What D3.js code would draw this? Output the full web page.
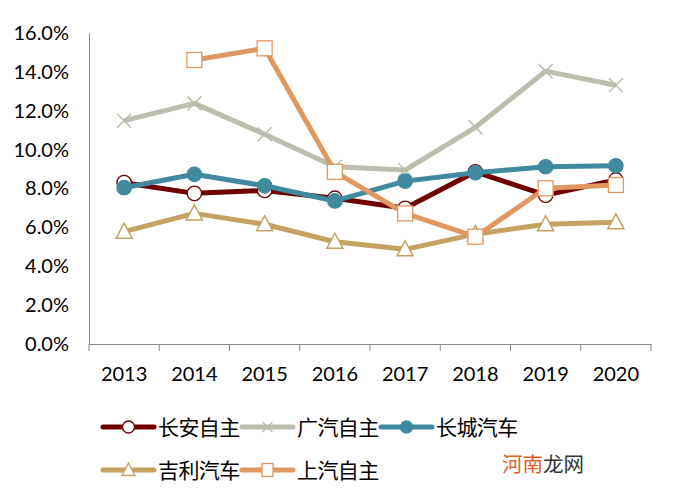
<!DOCTYPE html>
<html><head><meta charset="utf-8">
<script src="https://cdn.jsdelivr.net/npm/d3@7/dist/d3.min.js"></script>
<style>body{margin:0;background:#fff;}svg{display:block;}</style>
</head><body>
<svg id="c" width="699" height="499"></svg>
<script>
const years = ["2013","2014","2015","2016","2017","2018","2019","2020"];
const changan = [8.3, 7.75, 7.9, 7.5, 6.98, 8.86, 7.66, 8.44];
const gac = [11.49, 12.38, 10.79, 9.12, 8.95, 11.15, 14.04, 13.31];
const greatWall = [8.04, 8.73, 8.14, 7.36, 8.38, 8.81, 9.12, 9.17];
const geely = [5.78, 6.72, 6.16, 5.26, 4.87, 5.65, 6.16, 6.26];
const saic = [null, 14.61, 15.21, 8.86, 6.72, 5.52, 8.01, 8.18];
const yTicks = [0, 2, 4, 6, 8, 10, 12, 14, 16];
const seriesNames = ["长安自主", "广汽自主", "长城汽车", "吉利汽车", "上汽自主"];

(function(){
const series = [
  {name: seriesNames[0], values: changan, color: "#700000", marker: "circle", fill: "#fff"},
  {name: seriesNames[1], values: gac, color: "#bdbdad", marker: "x", fill: "none"},
  {name: seriesNames[2], values: greatWall, color: "#3f8a9d", marker: "circle", fill: "#3f8a9d"},
  {name: seriesNames[3], values: geely, color: "#c3a262", marker: "triangle", fill: "#fff"},
  {name: seriesNames[4], values: saic, color: "#e09860", marker: "square", fill: "#fff"}
];

const svg = d3.select("#c");
const mLeft = 89, mRight = 651, mTop = 33, mBottom = 344;
const x = d3.scaleBand().domain(years).range([mLeft, mRight]);
const y = d3.scaleLinear().domain([0, 16]).range([mBottom, mTop]);
const font = "Lato, 'Liberation Sans', sans-serif";
const cjk = "'Noto Sans CJK SC', sans-serif";

const yAxis = svg.append("g").attr("transform", `translate(${mLeft},0)`)
  .call(d3.axisLeft(y).tickValues(yTicks).tickSize(0).tickPadding(20).tickFormat(d => d.toFixed(1) + "%"));
yAxis.select(".domain").attr("stroke", "#888").attr("stroke-width", 1);
yAxis.selectAll("text").attr("font-family", font).attr("font-size", 20).attr("fill", "#000");

const xAxis = svg.append("g").attr("transform", `translate(0,${mBottom})`)
  .call(d3.axisBottom(x).tickSize(0).tickPadding(23));
xAxis.select(".domain").attr("stroke", "#888").attr("stroke-width", 1);
xAxis.selectAll("text").attr("font-family", font).attr("font-size", 20).attr("fill", "#000");
const bounds = years.map(d => x(d)).concat([mRight]);
svg.append("g").selectAll("line").data(bounds).join("line")
  .attr("x1", d => d).attr("x2", d => d).attr("y1", mBottom).attr("y2", mBottom + 7)
  .attr("stroke", "#888").attr("stroke-width", 1);

const cx = d => x(d) + x.bandwidth() / 2;

function drawMarker(g, type, color, fill, px, py) {
  if (type === "circle") {
    g.append("circle").attr("cx", px).attr("cy", py).attr("r", 7.2)
      .attr("fill", fill).attr("stroke", color).attr("stroke-width", 1.3);
  } else if (type === "square") {
    g.append("rect").attr("x", px - 7.5).attr("y", py - 7.5).attr("width", 15).attr("height", 15)
      .attr("fill", fill).attr("stroke", color).attr("stroke-width", 1.3);
  } else if (type === "triangle") {
    g.append("path").attr("d", `M${px},${py - 8.5}L${px + 8},${py + 6.5}L${px - 8},${py + 6.5}Z`)
      .attr("fill", fill).attr("stroke", color).attr("stroke-width", 1.5);
  } else if (type === "x") {
    g.append("path").attr("d", `M${px - 7},${py - 7}L${px + 7},${py + 7}M${px - 7},${py + 7}L${px + 7},${py - 7}`)
      .attr("stroke", color).attr("stroke-width", 1.5).attr("fill", "none");
  }
}

const line = d3.line().defined(d => d.v != null).x(d => cx(d.year)).y(d => y(d.v));

series.forEach(s => {
  const pts = years.map((yr, i) => ({year: yr, v: s.values[i]}));
  const g = svg.append("g");
  g.append("path").datum(pts).attr("d", line).attr("fill", "none")
    .attr("stroke", s.color).attr("stroke-width", 5).attr("stroke-linejoin", "round");
  pts.filter(p => p.v != null).forEach(p => drawMarker(g, s.marker, s.color, s.fill, cx(p.year), y(p.v)));
});

const legendPos = [
  {lx: 103, ly: 427}, {lx: 242, ly: 427}, {lx: 381, ly: 427},
  {lx: 103, ly: 470}, {lx: 242, ly: 470}
];
series.forEach((s, i) => {
  const p = legendPos[i];
  const g = svg.append("g");
  g.append("line").attr("x1", p.lx).attr("x2", p.lx + 51).attr("y1", p.ly).attr("y2", p.ly)
    .attr("stroke", s.color).attr("stroke-width", 5).attr("stroke-linecap", "round");
  const mx = p.lx + 25.5;
  if (s.marker === "circle") {
    g.append("circle").attr("cx", mx).attr("cy", p.ly).attr("r", 6).attr("fill", s.fill).attr("stroke", s.color).attr("stroke-width", 1.3);
  } else if (s.marker === "square") {
    g.append("rect").attr("x", mx - 5.5).attr("y", p.ly - 6.5).attr("width", 11).attr("height", 13).attr("fill", "#fff").attr("stroke", s.color).attr("stroke-width", 1.3);
  } else if (s.marker === "triangle") {
    g.append("path").attr("d", `M${mx},${p.ly - 7}L${mx + 6.5},${p.ly + 5.5}L${mx - 6.5},${p.ly + 5.5}Z`).attr("fill", "#fff").attr("stroke", s.color).attr("stroke-width", 1.3);
  } else if (s.marker === "x") {
    g.append("path").attr("d", `M${mx - 5},${p.ly - 5}L${mx + 5},${p.ly + 5}M${mx - 5},${p.ly + 5}L${mx + 5},${p.ly - 5}`).attr("stroke", s.color).attr("stroke-width", 1.3);
  }
  g.append("text").attr("x", p.lx + 55).attr("y", p.ly).attr("dy", "0.36em")
    .attr("font-family", cjk).attr("font-size", 21).attr("letter-spacing", -0.6).attr("fill", "#000").text(s.name);
});

const wm = svg.append("text").attr("x", 502).attr("y", 465).attr("dy", "0.35em")
  .attr("font-family", cjk).attr("font-size", 20.5);
wm.append("tspan").attr("fill", "#e0622a").text("河南");
wm.append("tspan").attr("fill", "#333").text("龙网");
})();
</script>
</body></html>
